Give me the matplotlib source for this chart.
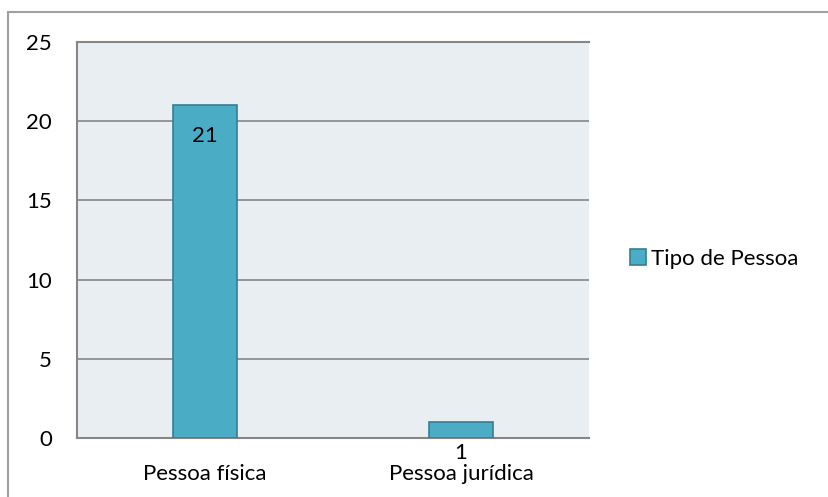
import matplotlib
matplotlib.use("Agg")
import matplotlib.pyplot as plt
from matplotlib.patches import Patch
from matplotlib.lines import Line2D

categories = ["Pessoa física", "Pessoa jurídica"]
values = [21, 1]
series_name = "Tipo de Pessoa"
yticks = [0, 5, 10, 15, 20, 25]

plt.rcParams['font.family'] = ['Lato', 'DejaVu Sans']
FS = 16

W, H = 829, 497
fig = plt.figure(figsize=(W / 100, H / 100), dpi=100)
ax = fig.add_axes([77 / W, 1 - 438 / H, (589 - 77) / W, (438 - 42) / H])

bar_color = "#4BACC6"
edge_color = "#357F93"
ax.set_facecolor("#E8EEF2")

x = list(range(len(categories)))
bars = ax.bar(x, values, width=0.25, color=bar_color, edgecolor=edge_color,
              linewidth=1.2, zorder=3)
for xi, v in zip(x, values):
    ax.annotate(str(v), (xi, v), xytext=(0, -22), textcoords="offset points",
                ha="center", va="center", fontsize=FS, color="black", zorder=4)

ax.set_xlim(-0.5, len(categories) - 0.5)
ax.set_ylim(0, 25)
ax.set_yticks(yticks)
ax.set_yticklabels([str(t) for t in yticks], fontsize=FS)
ax.set_xticks(x)
ax.set_xticklabels(categories, fontsize=FS)
ax.tick_params(axis="y", length=0, pad=18)
ax.tick_params(axis="x", length=0, pad=19)
ax.grid(axis="y", color="#868686", linewidth=1.2, zorder=1)
ax.set_axisbelow(True)
for s in ["left", "bottom", "top"]:
    ax.spines[s].set_color("#868686")
    ax.spines[s].set_linewidth(1.5)
ax.spines["right"].set_visible(False)

handle = Patch(facecolor=bar_color, edgecolor=edge_color, linewidth=1.2)
fig.legend([handle], [series_name], loc="center left",
           bbox_to_anchor=(630 / W, 1 - 259 / H), frameon=False, fontsize=FS,
           handlelength=0.7, handleheight=0.7, handletextpad=0.25,
           borderaxespad=0, borderpad=0)

# outer chart border
fig.add_artist(Line2D([8 / W, 8 / W], [0, 1 - 12 / H], transform=fig.transFigure,
                      color="#A0A0A0", linewidth=1.5))
fig.add_artist(Line2D([8 / W, 1], [1 - 12 / H, 1 - 12 / H], transform=fig.transFigure,
                      color="#A0A0A0", linewidth=1.5))

fig.savefig("out.png", dpi=100)
